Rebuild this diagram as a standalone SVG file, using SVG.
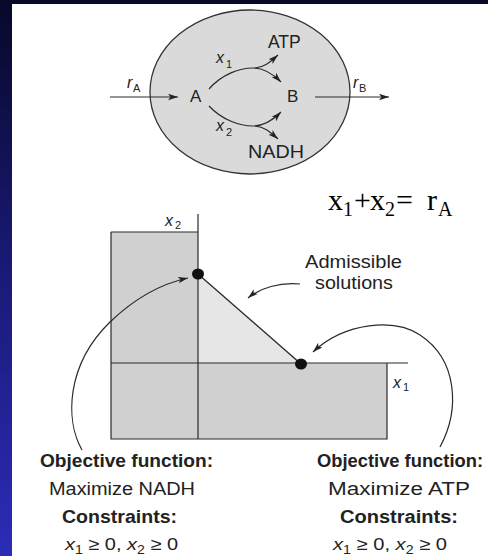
<svg xmlns="http://www.w3.org/2000/svg" width="488" height="556" viewBox="0 0 488 556">
<defs>
<linearGradient id="side" x1="0" y1="0" x2="0" y2="1">
<stop offset="0" stop-color="#08082a"/>
<stop offset="0.5" stop-color="#1a1a78"/>
<stop offset="1" stop-color="#2c2cb8"/>
</linearGradient>
<marker id="ah" markerUnits="userSpaceOnUse" markerWidth="12" markerHeight="8" refX="10" refY="4" orient="auto">
<path d="M0,0.8 L10,4 L0,7.2 L2.5,4 Z" fill="#222"/>
</marker>
</defs>
<style>
.ln{fill:none;stroke:#2a2a2a;stroke-width:1.3}
.ax{fill:none;stroke:#2a2a2a;stroke-width:1.2}
.arr{fill:none;stroke:#2a2a2a;stroke-width:1.2;marker-end:url(#ah)}
.s{font-family:"Liberation Sans",Arial,sans-serif;fill:#222}
.it{font-style:italic}
.b{font-weight:bold}
.serif{font-family:"Liberation Serif","Times New Roman",serif;fill:#000}
</style>
<rect x="0" y="0" width="488" height="556" fill="#ffffff"/>
<rect x="0" y="0" width="488" height="4" fill="#09092a"/>
<rect x="0" y="0" width="12" height="556" fill="url(#side)"/>

<g id="cell">
<ellipse cx="250" cy="92" rx="100" ry="82" fill="#dadada" stroke="#333" stroke-width="1.3"/>
</g>
<g id="nodeA"><text class="s" x="190" y="102" font-size="17">A</text></g>
<g id="nodeB"><text class="s" x="287" y="102" font-size="17">B</text></g>
<g id="nodeATP"><text class="s" x="268" y="48" font-size="17.5">ATP</text></g>
<g id="nodeNADH"><text class="s" x="248" y="158" font-size="17.5" textLength="56" lengthAdjust="spacingAndGlyphs">NADH</text></g>
<g id="labels-top">
<text class="s it" x="127" y="88" font-size="16">r</text><text class="s" x="133" y="92" font-size="11">A</text>
<text class="s it" x="353" y="88" font-size="16">r</text><text class="s" x="359" y="92" font-size="11">B</text>
<text class="s it" x="216" y="63" font-size="16">x</text><text class="s" x="226" y="68" font-size="11">1</text>
<text class="s it" x="216" y="131" font-size="16">x</text><text class="s" x="226" y="136" font-size="11">2</text>
</g>

<g id="graph">
<rect x="111" y="232" width="87" height="131" fill="#d0d0d0"/>
<rect x="111" y="363" width="276" height="76" fill="#d0d0d0"/>
<polygon points="198,274 198,363 301,363" fill="#e6e6e6"/>
<path class="ax" d="M111,232 H198 M111,232 V439 H387 V363 M198,214 V439 M111,363 H408"/>
<path class="ln" d="M198,274 L301,364"/>
<ellipse cx="198" cy="274" rx="6" ry="5.5" fill="#111"/>
<ellipse cx="301" cy="364" rx="6" ry="5.5" fill="#111"/>
<text class="s it" x="165" y="226" font-size="16">x</text><text class="s" x="175" y="229" font-size="11">2</text>
<text class="s it" x="393" y="388" font-size="16">x</text><text class="s" x="403" y="391" font-size="11">1</text>
</g>
<g id="admissible">
<text class="s" x="305" y="268" font-size="18" textLength="97" lengthAdjust="spacingAndGlyphs">Admissible</text>
<text class="s" x="315" y="289" font-size="18" textLength="78" lengthAdjust="spacingAndGlyphs">solutions</text>
</g>
<g id="equation">
<text class="serif" font-size="30"><tspan x="328" y="210">x</tspan><tspan x="343" y="216" font-size="20">1</tspan><tspan x="354" y="210">+</tspan><tspan x="370" y="210">x</tspan><tspan x="385" y="216" font-size="20">2</tspan><tspan x="396" y="210">=</tspan><tspan x="427" y="210">r</tspan><tspan x="438" y="216" font-size="20">A</tspan></text>
</g>

<g id="left-objective">
<text class="s b" x="40" y="467" font-size="18" textLength="173" lengthAdjust="spacingAndGlyphs">Objective function:</text>
<text class="s" x="49" y="495" font-size="17.5" textLength="146" lengthAdjust="spacingAndGlyphs">Maximize NADH</text>
<text class="s b" x="62" y="523" font-size="18" textLength="115" lengthAdjust="spacingAndGlyphs">Constraints:</text>
<text class="s" x="65" y="550" font-size="17" textLength="113" lengthAdjust="spacingAndGlyphs"><tspan class="it">x</tspan><tspan font-size="12" dy="4">1</tspan><tspan dy="-4"> ≥ 0, </tspan><tspan class="it">x</tspan><tspan font-size="12" dy="4">2</tspan><tspan dy="-4"> ≥ 0</tspan></text>
</g>
<g id="right-objective">
<text class="s b" x="317" y="467" font-size="18" textLength="166" lengthAdjust="spacingAndGlyphs">Objective function:</text>
<text class="s" x="328" y="495" font-size="17.5" textLength="142" lengthAdjust="spacingAndGlyphs">Maximize ATP</text>
<text class="s b" x="340" y="523" font-size="18" textLength="118" lengthAdjust="spacingAndGlyphs">Constraints:</text>
<text class="s" x="333" y="550" font-size="17" textLength="114" lengthAdjust="spacingAndGlyphs"><tspan class="it">x</tspan><tspan font-size="12" dy="4">1</tspan><tspan dy="-4"> ≥ 0, </tspan><tspan class="it">x</tspan><tspan font-size="12" dy="4">2</tspan><tspan dy="-4"> ≥ 0</tspan></text>
</g>

<g id="connectors">
<path class="arr" d="M110,97 H178"/>
<path class="arr" d="M315,97 H389"/>
<path class="arr" d="M209,89 C222,74 240,68 253,68 C264,68 273,74 281,82"/>
<path class="arr" d="M255,68 C265,67 270,62 278,55"/>
<path class="arr" d="M209,106 C222,120 240,126 253,126 C264,126 273,120 281,112"/>
<path class="arr" d="M255,126 C265,127 270,132 278,139"/>
<path class="arr" d="M82,450 C65,420 66,365 110,322 C135,298 160,284 188,278"/>
<path class="arr" d="M440,447 C460,410 458,360 420,335 C395,318 345,322 313,352"/>
<path class="arr" d="M300,284 C280,282 260,288 248,298"/>
</g>
</svg>
